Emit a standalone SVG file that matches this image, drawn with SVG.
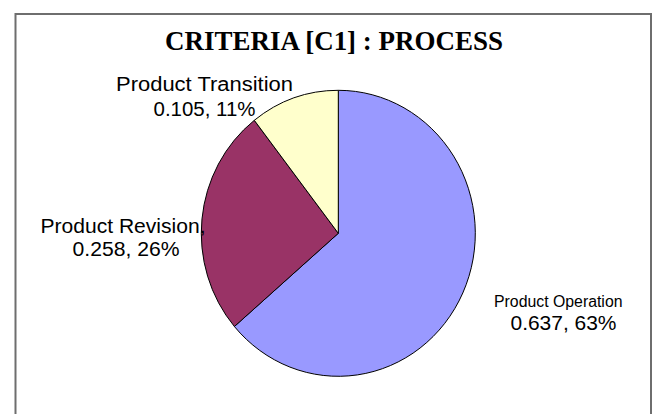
<svg xmlns="http://www.w3.org/2000/svg" width="657" height="414" viewBox="0 0 657 414">
  <style>
    .frame { fill: #ffffff; stroke: #6e6e6e; stroke-width: 2; }
    .title { font-family: "Liberation Serif", "Times New Roman", serif; font-weight: bold; font-size: 27px; fill: #000; }
    .lbl { font-family: "Liberation Sans", Arial, sans-serif; font-size: 20px; fill: #000; }
    .lbl-sm { font-family: "Liberation Sans", Arial, sans-serif; font-size: 16px; fill: #000; }
    .slice { stroke: #000; stroke-width: 1; stroke-linejoin: round; }
  </style>
  <rect width="657" height="414" fill="#ffffff"/>
  <!-- chart frame (bottom edge runs past the canvas) -->
  <rect class="frame" x="15.5" y="14" width="635.5" height="430"/>

  <text class="title" x="165" y="50" textLength="338" lengthAdjust="spacingAndGlyphs">CRITERIA [C1]  : PROCESS</text>

  <g id="slices">
    <g id="slice-operation">
      <path class="slice" fill="#9999FF" d="M338.3,233.3 L338.3,90.3 A137,143 0 1,1 234.4,326.5 Z"/>
    </g>
    <g id="slice-revision">
      <path class="slice" fill="#993366" d="M338.3,233.3 L234.4,326.5 A137,143 0 0,1 254.3,120.3 Z"/>
    </g>
    <g id="slice-transition">
      <path class="slice" fill="#FFFFCC" d="M338.3,233.3 L254.3,120.3 A137,143 0 0,1 338.3,90.3 Z"/>
    </g>
  </g>

  <g id="labels">
    <g id="label-transition">
      <text class="lbl" x="116" y="91" textLength="177" lengthAdjust="spacingAndGlyphs">Product  Transition</text>
      <text class="lbl" x="153.5" y="116" textLength="102" lengthAdjust="spacingAndGlyphs">0.105, 11%</text>
    </g>
    <g id="label-revision">
      <text class="lbl" x="40.5" y="233" textLength="165" lengthAdjust="spacingAndGlyphs">Product Revision,</text>
      <text class="lbl" x="72.5" y="256" textLength="107" lengthAdjust="spacingAndGlyphs">0.258, 26%</text>
    </g>
    <g id="label-operation">
      <text class="lbl-sm" x="494" y="306.5" textLength="128.5" lengthAdjust="spacingAndGlyphs">Product Operation</text>
      <text class="lbl" x="510.5" y="330" textLength="106" lengthAdjust="spacingAndGlyphs">0.637, 63%</text>
    </g>
  </g>
</svg>
